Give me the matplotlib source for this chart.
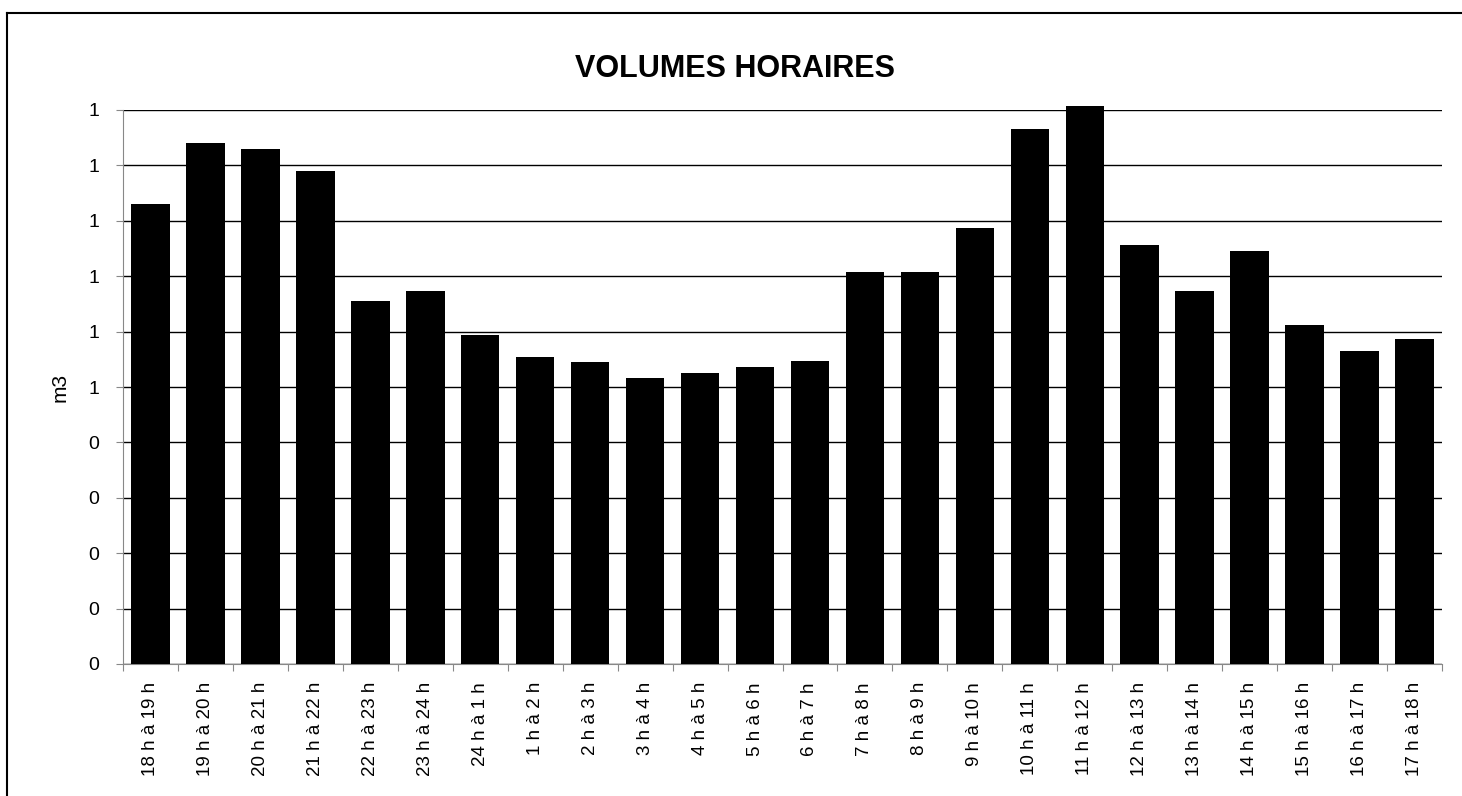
import matplotlib
matplotlib.use("Agg")
import matplotlib.pyplot as plt
from matplotlib.lines import Line2D

# hourly slots, from 18 h to 18 h next day
hour_labels = ['18 h à 19 h', '19 h à 20 h', '20 h à 21 h', '21 h à 22 h',
               '22 h à 23 h', '23 h à 24 h', '24 h à 1 h', '1 h à 2 h',
               '2 h à 3 h', '3 h à 4 h', '4 h à 5 h', '5 h à 6 h',
               '6 h à 7 h', '7 h à 8 h', '8 h à 9 h', '9 h à 10 h',
               '10 h à 11 h', '11 h à 12 h', '12 h à 13 h', '13 h à 14 h',
               '14 h à 15 h', '15 h à 16 h', '16 h à 17 h', '17 h à 18 h']

# volumes (m3, axis 0 -> 1)
volumes = [0.83, 0.94, 0.93, 0.89, 0.655, 0.673, 0.594, 0.554,
           0.545, 0.516, 0.525, 0.536, 0.547, 0.708, 0.708, 0.787,
           0.965, 1.008, 0.757, 0.673, 0.745, 0.612, 0.565, 0.587]

ytick_values = [0.0, 0.1, 0.2, 0.3, 0.4, 0.5, 0.6, 0.7, 0.8, 0.9, 1.0]
ytick_labels = ['0', '0', '0', '0', '0', '1', '1', '1', '1', '1', '1']

plt.rcParams['font.family'] = ['Liberation Sans', 'DejaVu Sans']

fig = plt.figure(figsize=(14.62, 7.96), dpi=100)
ax = fig.add_axes([123 / 1462, 1 - 664 / 796, (1442 - 123) / 1462, (664 - 110) / 796])

x = list(range(len(volumes)))
ax.bar(x, volumes, width=0.7, color='black', zorder=3, clip_on=False)

ax.set_xlim(-0.5, len(volumes) - 0.5)
ax.set_ylim(0, 1.0)

ax.set_yticks(ytick_values)
ax.set_yticklabels(ytick_labels, fontsize=14)
ax.yaxis.grid(True, color='black', linewidth=1.0, zorder=0)
ax.set_axisbelow(True)

# ticks sit between the bars, labels under the bars
ax.set_xticks([i + 0.5 for i in x[:-1]] + [-0.5, len(volumes) - 0.5])
ax.set_xticklabels([])
ax.set_xticks(x, minor=True)
ax.set_xticklabels(hour_labels, minor=True, rotation=90, fontsize=13.5)
ax.tick_params(axis='x', which='minor', length=0, pad=13)
ax.tick_params(axis='x', which='major', length=5, color='#888888', direction='out')
ax.tick_params(axis='y', length=5, color='#888888', pad=12)

for side in ['top', 'right']:
    ax.spines[side].set_visible(False)
ax.spines['left'].set_color('#888888')
ax.spines['bottom'].set_color('#888888')

ax.set_ylabel('m3', fontsize=15, labelpad=14)

fig.text(0.5027, 1 - 77 / 796, 'VOLUMES HORAIRES', ha='center', va='baseline',
         fontsize=22, fontweight='bold')

# frame of the scanned sheet
fig.add_artist(Line2D([7 / 1462, 1.0], [1 - 13 / 796, 1 - 13 / 796],
                      transform=fig.transFigure, color='black', linewidth=1.5))
fig.add_artist(Line2D([7 / 1462, 7 / 1462], [0.0, 1 - 13 / 796],
                      transform=fig.transFigure, color='black', linewidth=1.5))

fig.savefig('out.png', dpi=100)
